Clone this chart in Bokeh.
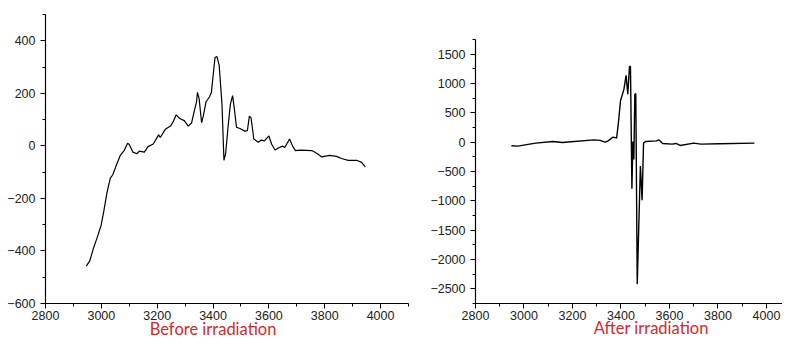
from bokeh.plotting import figure
from bokeh.layouts import row
from bokeh.models import Label, Range1d, FixedTicker
from bokeh.embed import file_html
from bokeh.resources import INLINE

# Before irradiation (field, signal)
before_x = [2946, 2958, 2972, 2984, 2999, 3008, 3020, 3032, 3041, 3054, 3068, 3082, 3094, 3100,
            3113, 3127, 3136, 3154, 3167, 3186, 3205, 3211, 3229, 3249, 3258, 3268, 3282, 3297,
            3311, 3323, 3331, 3341, 3344, 3350, 3359, 3365, 3375, 3387, 3394, 3407, 3414, 3422,
            3432, 3439, 3445, 3454, 3462, 3470, 3476, 3484, 3496, 3514, 3523, 3530, 3536, 3546,
            3562, 3573, 3584, 3600, 3610, 3622, 3634, 3649, 3657, 3674, 3686, 3695, 3712, 3754,
            3774, 3789, 3818, 3842, 3860, 3884, 3914, 3932, 3945]
before_y = [-458, -439, -389, -352, -303, -253, -179, -123, -110, -73, -36, -17, 10, 5,
            -24, -30, -20, -24, -3, 7, 42, 32, 63, 77, 94, 118, 103, 96,
            75, 87, 125, 168, 203, 181, 88, 113, 168, 186, 203, 336, 340, 306,
            158, -55, -30, 75, 158, 191, 143, 71, 66, 56, 58, 113, 107, 26,
            14, 22, 19, 38, 6, -16, -8, -1, -6, 26, -3, -18, -16, -18,
            -30, -42, -36, -40, -48, -55, -55, -63, -80]

# After irradiation
after_x = [2948, 2974, 3048, 3119, 3158, 3288, 3314, 3334, 3347, 3366, 3382, 3389, 3398, 3412,
           3421, 3428, 3435, 3439, 3445, 3449, 3453, 3457, 3461, 3467, 3480, 3487, 3493, 3502,
           3546, 3557, 3572, 3611, 3627, 3644, 3700, 3729, 3807, 3950]
after_y = [-61, -67, -17, 11, -6, 39, 31, 0, 22, 85, 72, 317, 706, 900,
           1139, 817, 1289, 1289, -794, 11, -294, 817, 828, -2420, -406, -989, -17, 11,
           22, 39, -22, -33, -22, -56, -17, -33, -28, -17]

x_ticks = [2800, 3000, 3200, 3400, 3600, 3800, 4000]
before_y_ticks = [-600, -400, -200, 0, 200, 400]
after_y_ticks = [-2500, -2000, -1500, -1000, -500, 0, 500, 1000, 1500]

RED = "#d42a2a"


def style(p, xt, xm, yt, ym, x_at, y_at, x_bounds, y_bounds):
    p.grid.visible = False
    p.outline_line_color = None
    p.xaxis.ticker = FixedTicker(ticks=xt, minor_ticks=xm)
    p.yaxis.ticker = FixedTicker(ticks=yt, minor_ticks=ym)
    p.xaxis.fixed_location = x_at
    p.yaxis.fixed_location = y_at
    p.xaxis.bounds = x_bounds
    p.yaxis.bounds = y_bounds
    for ax in (p.xaxis, p.yaxis):
        ax.axis_line_color = "black"
        ax.axis_line_width = 1.2
        ax.major_tick_line_color = "black"
        ax.minor_tick_line_color = "black"
        ax.major_tick_out = 5
        ax.major_tick_in = 0
        ax.minor_tick_out = 3
        ax.minor_tick_in = 0
        ax.major_label_text_font = "Liberation Sans"
        ax.major_label_text_font_size = "12.5px"
        ax.major_label_text_color = "#222222"
    p.xaxis.major_label_standoff = 2
    p.yaxis.major_label_standoff = 5


def caption(p, text, x, y):
    p.add_layout(Label(x=x, y=y, text=text, text_align="center", text_baseline="alphabetic",
                       text_color=RED, text_font="Lato", text_font_size="16.5px"))


p1 = figure(width=412, height=339, title=None, min_border=0,
            x_range=Range1d(2638.8, 4114.3), y_range=Range1d(-737.0, 553.3),
            output_backend="svg", toolbar_location=None)
p1.line(before_x, before_y, line_color="black", line_width=1.2)
style(p1, x_ticks, list(range(2800, 4101, 100)), before_y_ticks, list(range(-600, 501, 100)),
      -600, 2800, (2800, 4100), (-600, 500))
caption(p1, "Before irradiation", 3400, -695.2)

p2 = figure(width=370, height=339, title=None, min_border=0,
            x_range=Range1d(2540.2, 4066), y_range=Range1d(-3363.6, 2414.8),
            output_backend="svg", toolbar_location=None)
p2.line(after_x, after_y, line_color="black", line_width=1.4)
style(p2, x_ticks, list(range(2800, 4001, 100)), after_y_ticks, list(range(-2750, 1751, 250)),
      -2750, 2800, (2800, 4066), (-2750, 1750))
caption(p2, "After irradiation", 3524.5, -3176.1)

layout = row(p1, p2)
open("out.html", "w").write(file_html(layout, INLINE))
